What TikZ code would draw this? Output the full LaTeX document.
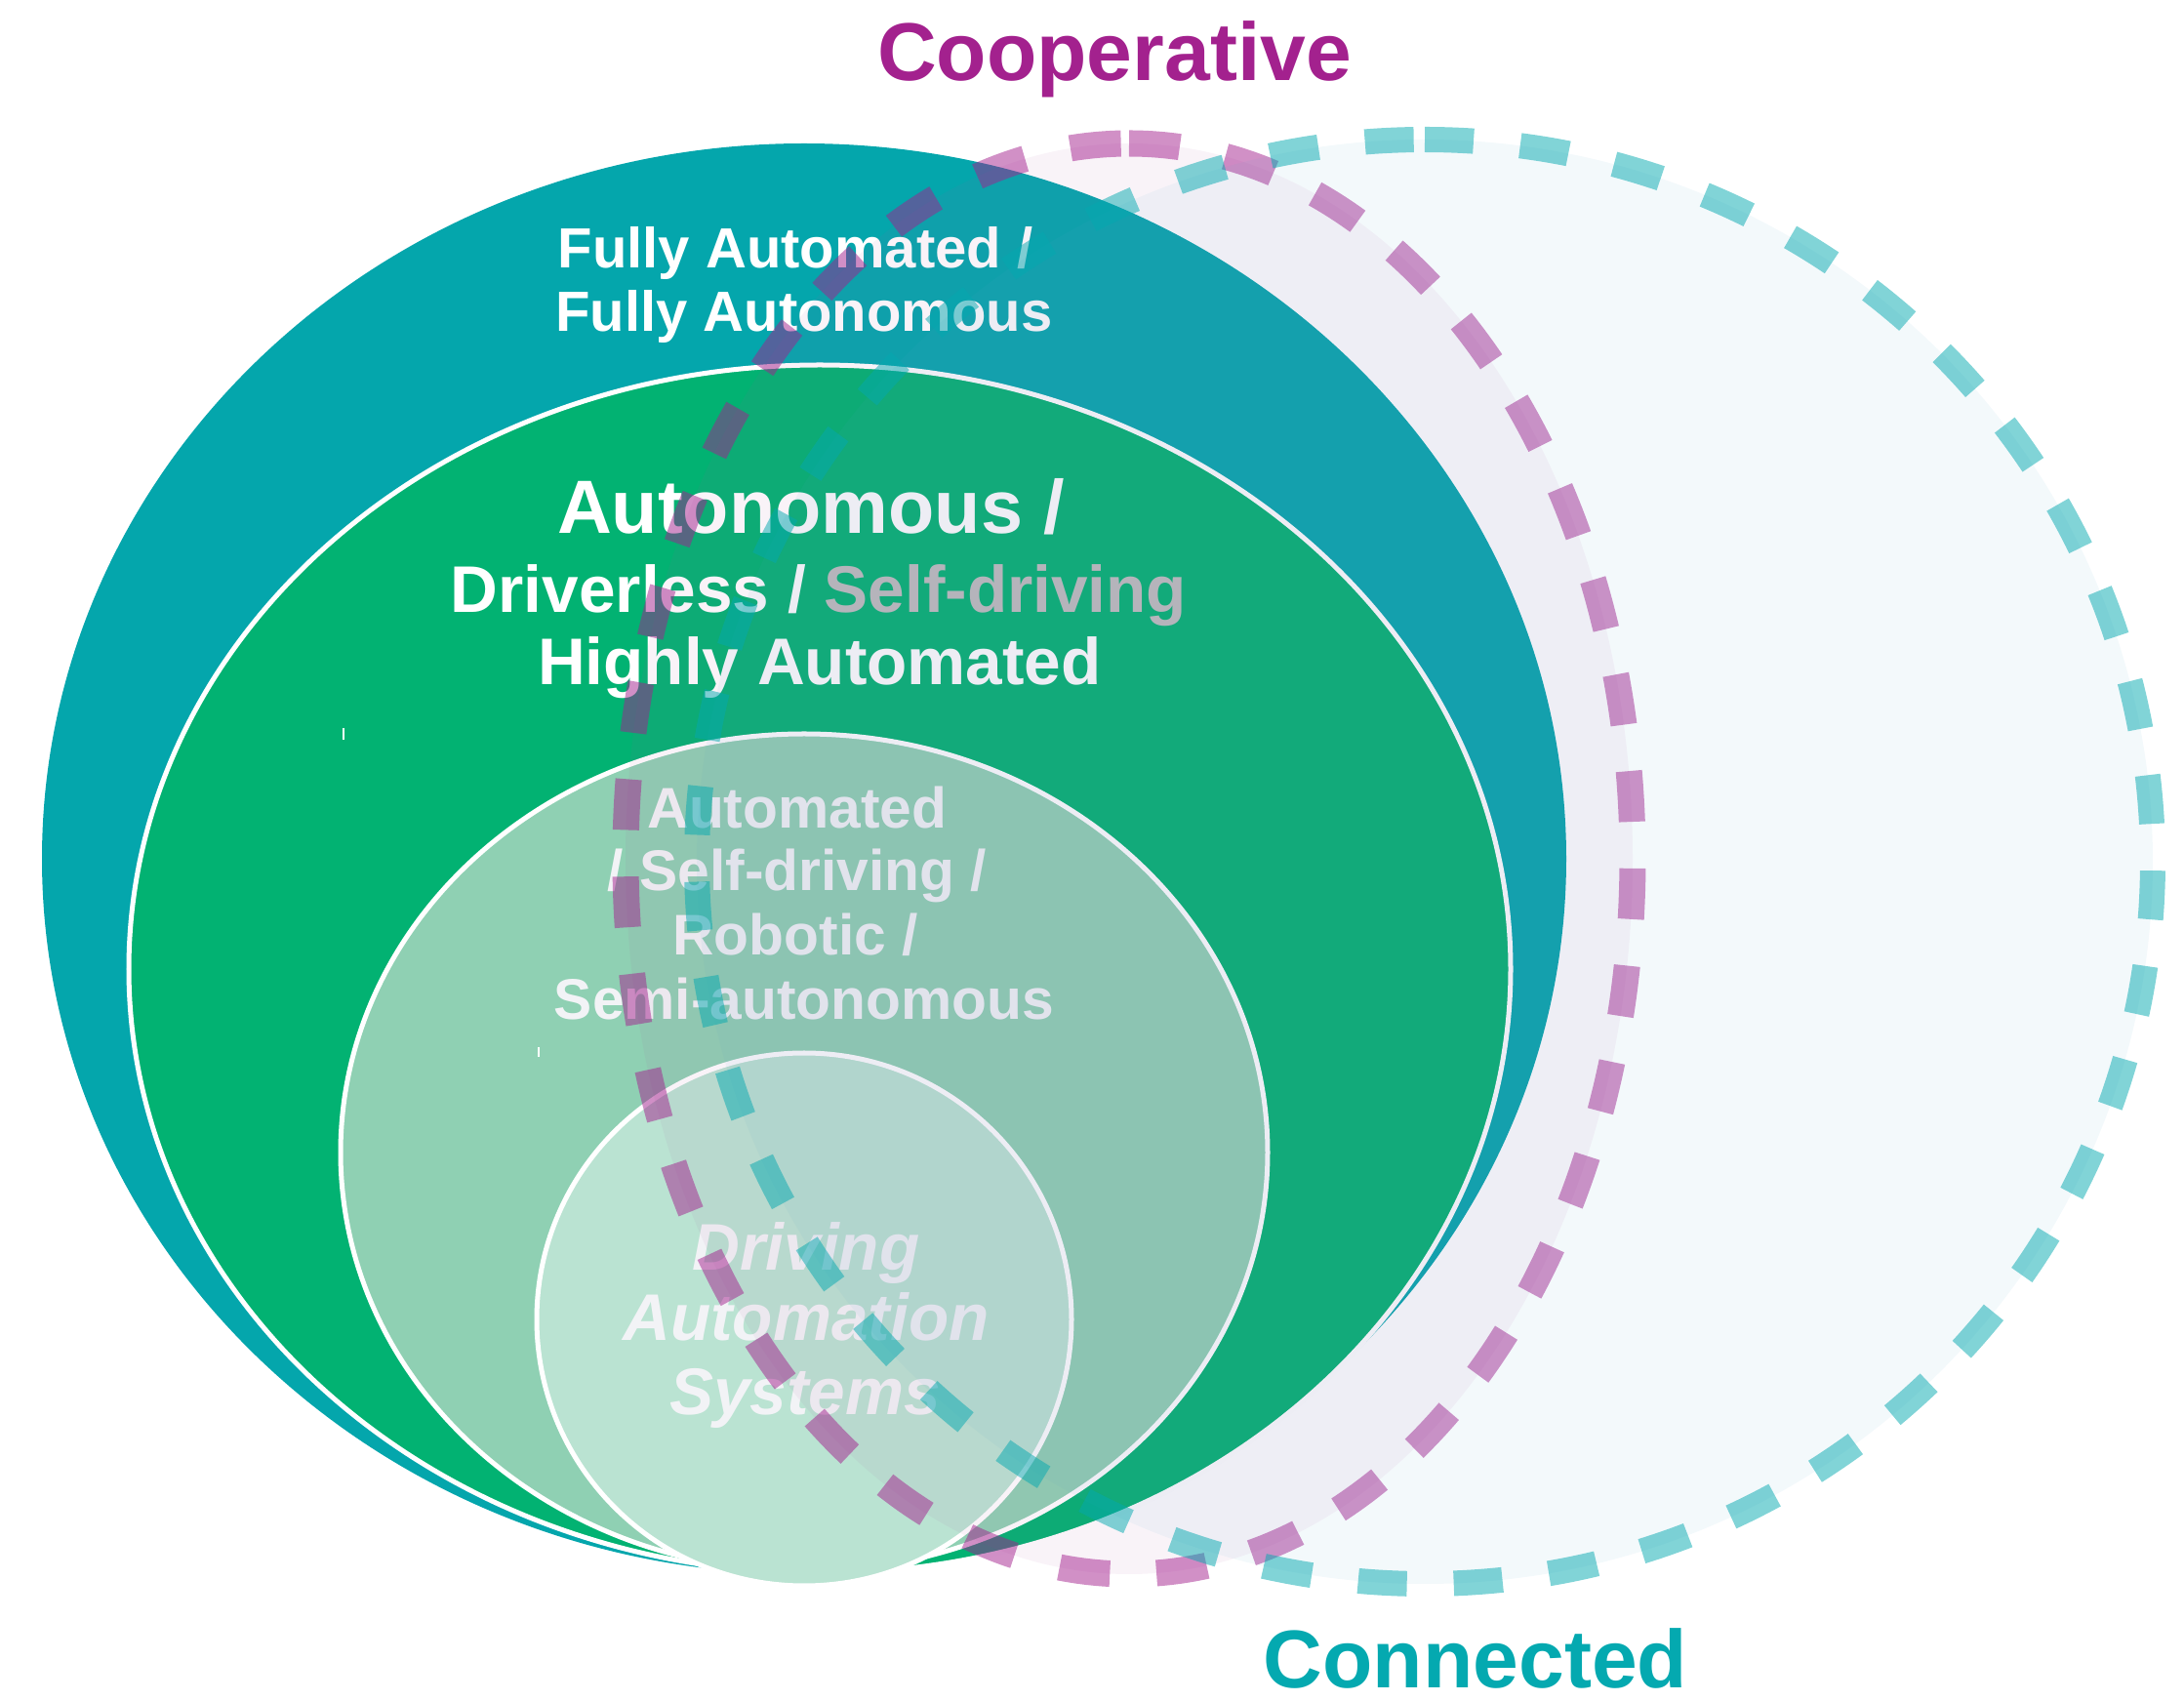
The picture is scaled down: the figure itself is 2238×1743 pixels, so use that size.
\documentclass[tikz,border=0pt]{standalone}
\usepackage{fontspec}
\setmainfont{Liberation Sans}
\definecolor{tealfull}{HTML}{04A6AC}
\definecolor{greenhigh}{HTML}{02B272}
\definecolor{mintauto}{HTML}{8FD0B3}
\definecolor{mintcore}{HTML}{BAE3D2}
\definecolor{coop}{HTML}{A3218E}
\definecolor{conn}{HTML}{04A9B0}
\definecolor{coopfill}{HTML}{AA5AA0}
\definecolor{connfill}{HTML}{5AA5C8}
\definecolor{paletext}{HTML}{F2F3F6}
\definecolor{greytext}{HTML}{BEBEBE}
\begin{document}
\begin{tikzpicture}[x=0.01cm, y=-0.01cm,
  ring/.style={draw=white, line width=0.05cm},
  lbl/.style={anchor=base, inner sep=0pt},
  title/.style={lbl, font=\fontsize{23.9}{28}\selectfont\bfseries},
  fullytxt/.style={lbl, text=white, font=\fontsize{16.5}{19}\selectfont\bfseries},
  bigtxt/.style={lbl, text=white, font=\fontsize{22}{26}\selectfont\bfseries},
  midtxt/.style={lbl, text=white, font=\fontsize{19.2}{22}\selectfont\bfseries},
  autotxt/.style={lbl, text=paletext, font=\fontsize{16.7}{19}\selectfont\bfseries},
  coretxt/.style={lbl, text=paletext, font=\fontsize{19.2}{22}\selectfont\bfseries\itshape},
  coopdash/.style={draw=coop, draw opacity=0.5, line width=0.27cm, line cap=butt,
                   dash pattern=on 0.52cm off 0.4778cm},
  conndash/.style={draw=conn, draw opacity=0.5, line width=0.26cm, line cap=butt,
                   dash pattern=on 0.50cm off 0.4798cm}]
\useasboundingbox (0,0) rectangle (2238,1743);

% nested levels of automation
\fill[tealfull] (824,880) ellipse [x radius=781, y radius=733];
\filldraw[fill=greenhigh, ring] (840,993) ellipse [x radius=708, y radius=619];
\filldraw[fill=mintauto, ring] (824,1181) ellipse [x radius=475, y radius=429];
\filldraw[fill=mintcore, ring] (824,1352) ellipse [x radius=274, y radius=273];

% small marks left on the fills
\draw[white, line width=0.025cm] (352,746) -- (352,758);
\draw[white, line width=0.025cm] (552,1073) -- (552,1083);

% labels of the levels
\node[fullytxt] (fa1) at (815,275) {Fully Automated /};
\node[fullytxt] (fa2) at (824,340) {Fully Autonomous};

\node[bigtxt] (au1) at (831,547) {Autonomous /};
\node[midtxt] (au2) at (839,628) {Driverless / \textcolor{greytext}{Self-driving}};
\node[midtxt] (au3) at (840,702) {Highly Automated};

\node[autotxt] (am1) at (817,849) {Automated};
\node[autotxt] (am2) at (817,913) {/ Self-driving /};
\node[autotxt] (am3) at (815,979) {Robotic /};
\node[autotxt] (am4) at (824,1045) {Semi-autonomous};

\node[coretxt] (da1) at (826,1302) {Driving};
\node[coretxt] (da2) at (826,1374) {Automation};
\node[coretxt] (da3) at (825,1449) {Systems};

% cooperative overlay
\fill[coopfill, fill opacity=0.07] (1157,880) ellipse [x radius=516, y radius=733];
\draw[coopdash] (1157,147) arc [start angle=-90, end angle=270, x radius=516, y radius=733];

% connected overlay
\fill[connfill, fill opacity=0.07] (1460,883) ellipse [x radius=746, y radius=740];
\draw[conndash] (1460,143) arc [start angle=-90, end angle=270, x radius=746, y radius=740];

% headings
\node[title, text=coop] (coopname) at (1142,83) {Cooperative};
\node[title, text=conn] (connname) at (1512,1729) {Connected};
\end{tikzpicture}
\end{document}
